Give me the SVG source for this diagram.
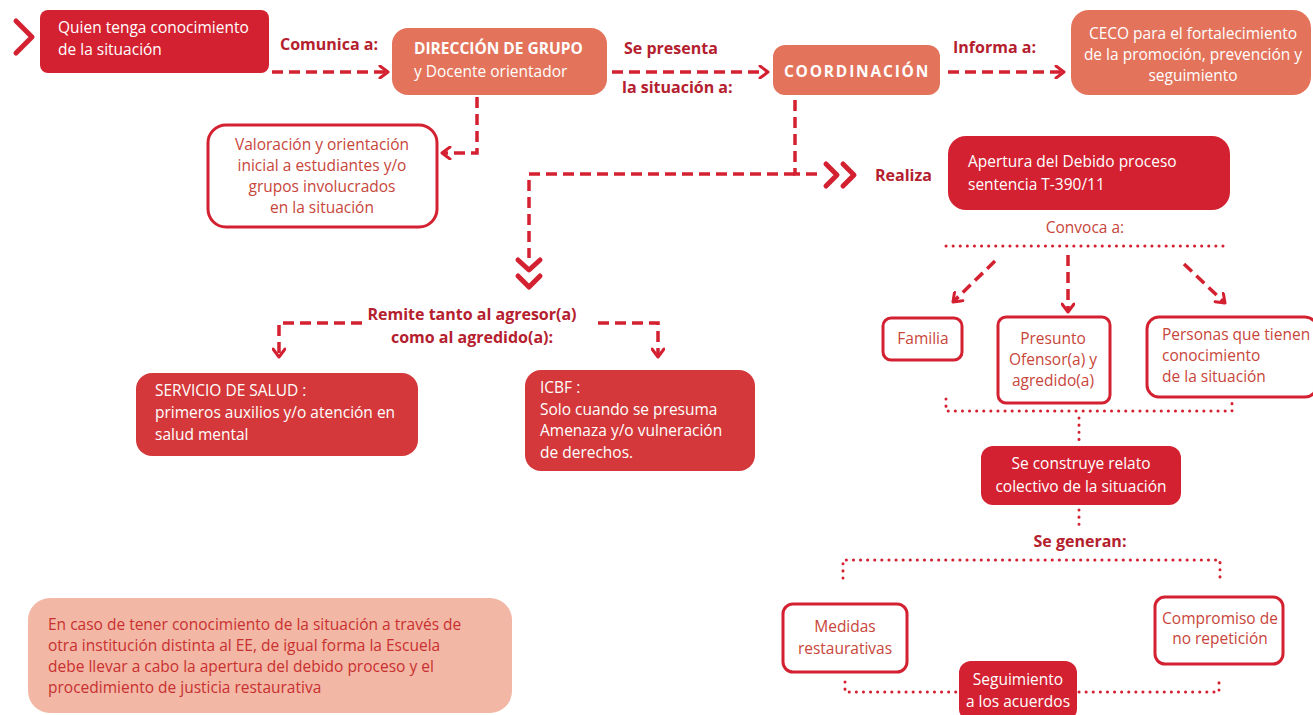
<svg xmlns="http://www.w3.org/2000/svg" width="1313" height="715" viewBox="0 0 1313 715">
<defs>
<style>
text{font-family:"Open Sans","Noto Sans",sans-serif;}
.wt{fill:#ffffff;font-size:15.5px;}
.rt{fill:#c8453a;font-size:15.5px;}
.lb{fill:#b5202e;font-size:16px;font-weight:bold;}
.dark{fill:#d42131;}
.sal{fill:#e3735b;}
.out{fill:#ffffff;stroke:#d42131;stroke-width:3;}
.dash{fill:none;stroke:#d42131;stroke-width:3.5;stroke-dasharray:11 6;}
.dot{fill:none;stroke:#d42131;stroke-width:3;stroke-dasharray:0.1 7;stroke-linecap:round;}
.chev{fill:none;stroke:#d42131;stroke-width:5;stroke-linecap:round;stroke-linejoin:round;}
</style>
<marker id="ah" viewBox="0 0 12 14" refX="10" refY="7" markerWidth="12" markerHeight="14" markerUnits="userSpaceOnUse" orient="auto">
<path d="M2,1 L10,7 L2,13" fill="none" stroke="#d42131" stroke-width="3" stroke-linecap="round" stroke-linejoin="round"/>
</marker>
</defs>
<rect width="1313" height="715" fill="#ffffff"/>

<g id="connectors">
<polyline class="chev" points="16,21 32,37 16,53"/>
<line class="dash" x1="272" y1="72" x2="388" y2="72" marker-end="url(#ah)"/>
<line class="dash" x1="612" y1="72" x2="768" y2="72" marker-end="url(#ah)"/>
<line class="dash" x1="948" y1="72" x2="1064" y2="72" marker-end="url(#ah)"/>
<polyline class="dash" points="477,97 477,153 442,153" marker-end="url(#ah)"/>
<polyline class="dash" points="795,100 795,174 818,174"/>
<polyline class="chev" points="826,164 837,175 826,186"/>
<polyline class="chev" points="843,164 854,175 843,186"/>
<polyline class="dash" points="795,174 529,174 529,258"/>
<polyline class="chev" points="518,260 529,270 540,260"/>
<polyline class="chev" points="518,276 529,287 540,276"/>
<polyline class="dash" points="362,323 279,323 279,357" marker-end="url(#ah)"/>
<polyline class="dash" points="598,323 658,323 658,357" marker-end="url(#ah)"/>
<line class="dot" x1="946" y1="246" x2="1226" y2="246"/>
<line class="dash" x1="995" y1="261" x2="953" y2="302" marker-end="url(#ah)"/>
<line class="dash" x1="1068" y1="255" x2="1068" y2="312" marker-end="url(#ah)"/>
<line class="dash" x1="1184" y1="264" x2="1225" y2="303" marker-end="url(#ah)"/>
<polyline class="dot" points="946,399 946,411 1232,411 1232,398"/>
<line class="dot" x1="1079" y1="418" x2="1079" y2="442"/>
<line class="dot" x1="1079" y1="510" x2="1079" y2="530"/>
<polyline class="dot" points="843,578 843,560 1220,560 1220,578"/>
<polyline class="dot" points="845,682 845,692 958,692"/>
<polyline class="dot" points="1079,692 1219,692 1219,678"/>
</g>

<g id="labels">
<text class="lb" x="280" y="50">Comunica a:</text>
<text class="lb" x="624" y="54">Se presenta</text>
<text class="lb" x="622" y="93">la situación a:</text>
<text class="lb" x="953" y="53">Informa a:</text>
<text class="lb" x="875" y="181">Realiza</text>
<text class="rt" x="1085" y="233" text-anchor="middle">Convoca a:</text>
<text class="lb" x="1080" y="547" text-anchor="middle" font-size="15">Se generan:</text>
<text class="lb" x="472" y="320" text-anchor="middle">Remite tanto al agresor(a)</text>
<text class="lb" x="472" y="343" text-anchor="middle">como al agredido(a):</text>
</g>

<g id="quien">
<rect class="dark" x="40" y="10" width="229" height="63" rx="8"/>
<text class="wt" x="58" y="33">Quien tenga conocimiento</text>
<text class="wt" x="58" y="55">de la situación</text>
</g>

<g id="direccion">
<rect class="sal" x="392" y="28" width="215" height="67" rx="16"/>
<text class="wt" x="414" y="54" font-weight="bold" font-size="14">DIRECCIÓN DE GRUPO</text>
<text class="wt" x="414" y="77">y Docente orientador</text>
</g>

<g id="coordinacion">
<rect class="sal" x="773" y="45" width="167" height="50" rx="12"/>
<text class="wt" x="857" y="77" text-anchor="middle" font-weight="bold" font-size="18" letter-spacing="1.8">COORDINACIÓN</text>
</g>

<g id="ceco">
<rect class="sal" x="1071" y="10" width="240" height="85" rx="18"/>
<text class="wt" x="1193" y="39" text-anchor="middle" font-size="14.5">CECO para el fortalecimiento</text>
<text class="wt" x="1193" y="60" text-anchor="middle" font-size="14.5">de la promoción, prevención y</text>
<text class="wt" x="1193" y="81" text-anchor="middle" font-size="14.5">seguimiento</text>
</g>

<g id="valoracion">
<rect class="out" x="208" y="125" width="229" height="102" rx="18"/>
<text class="rt" x="322" y="150" text-anchor="middle">Valoración y orientación</text>
<text class="rt" x="322" y="171" text-anchor="middle">inicial a estudiantes y/o</text>
<text class="rt" x="322" y="192" text-anchor="middle">grupos involucrados</text>
<text class="rt" x="322" y="213" text-anchor="middle">en la situación</text>
</g>

<g id="apertura">
<rect class="dark" x="948" y="136" width="282" height="74" rx="18"/>
<text class="wt" x="968" y="167" font-size="16.5">Apertura del Debido proceso</text>
<text class="wt" x="968" y="190" font-size="13.5">sentencia T-390/11</text>
</g>

<g id="familia">
<rect class="out" x="883" y="318" width="79" height="42" rx="8"/>
<text class="rt" x="923" y="344" text-anchor="middle">Familia</text>
</g>

<g id="presunto">
<rect class="out" x="998" y="317" width="112" height="86" rx="8"/>
<text class="rt" x="1053" y="344" text-anchor="middle">Presunto</text>
<text class="rt" x="1053" y="365" text-anchor="middle">Ofensor(a) y</text>
<text class="rt" x="1053" y="386" text-anchor="middle">agredido(a)</text>
</g>

<g id="personas">
<rect class="out" x="1147" y="317" width="170" height="80" rx="12"/>
<text class="rt" x="1162" y="340">Personas que tienen</text>
<text class="rt" x="1162" y="361">conocimiento</text>
<text class="rt" x="1162" y="382">de la situación</text>
</g>

<g id="relato">
<rect class="dark" x="981" y="446" width="200" height="59" rx="12"/>
<text class="wt" x="1081" y="469" text-anchor="middle">Se construye relato</text>
<text class="wt" x="1081" y="492" text-anchor="middle">colectivo de la situación</text>
</g>

<g id="medidas">
<rect class="out" x="783" y="604" width="124" height="68" rx="10"/>
<text class="rt" x="845" y="632" text-anchor="middle">Medidas</text>
<text class="rt" x="845" y="654" text-anchor="middle">restaurativas</text>
</g>

<g id="compromiso">
<rect class="out" x="1155" y="597" width="128" height="67" rx="10"/>
<text class="rt" x="1220" y="624" text-anchor="middle">Compromiso de</text>
<text class="rt" x="1220" y="644" text-anchor="middle">no repetición</text>
</g>

<g id="seguimiento">
<rect class="dark" x="959" y="661" width="118" height="60" rx="12"/>
<text class="wt" x="1018" y="685" text-anchor="middle">Seguimiento</text>
<text class="wt" x="1018" y="707" text-anchor="middle">a los acuerdos</text>
</g>

<g id="salud">
<rect x="136" y="373" width="282" height="83" rx="16" fill="#d4383a"/>
<text class="wt" x="155" y="396">SERVICIO DE SALUD :</text>
<text class="wt" x="155" y="418">primeros auxilios y/o atención en</text>
<text class="wt" x="155" y="440">salud mental</text>
</g>

<g id="icbf">
<rect x="525" y="370" width="230" height="101" rx="16" fill="#d4383a"/>
<text class="wt" x="540" y="393">ICBF :</text>
<text class="wt" x="540" y="415">Solo cuando se presuma</text>
<text class="wt" x="540" y="436">Amenaza y/o vulneración</text>
<text class="wt" x="540" y="458">de derechos.</text>
</g>

<g id="nota">
<rect x="28" y="598" width="484" height="115" rx="22" fill="#f3b7a6"/>
<text x="48" y="630" fill="#c8302f" font-size="15.5">En caso de tener conocimiento de la situación a través de</text>
<text x="48" y="651" fill="#c8302f" font-size="15.5">otra institución distinta al EE, de igual forma la Escuela</text>
<text x="48" y="672" fill="#c8302f" font-size="15.5">debe llevar a cabo la apertura del debido proceso y el</text>
<text x="48" y="693" fill="#c8302f" font-size="15.5">procedimiento de justicia restaurativa</text>
</g>
</svg>
